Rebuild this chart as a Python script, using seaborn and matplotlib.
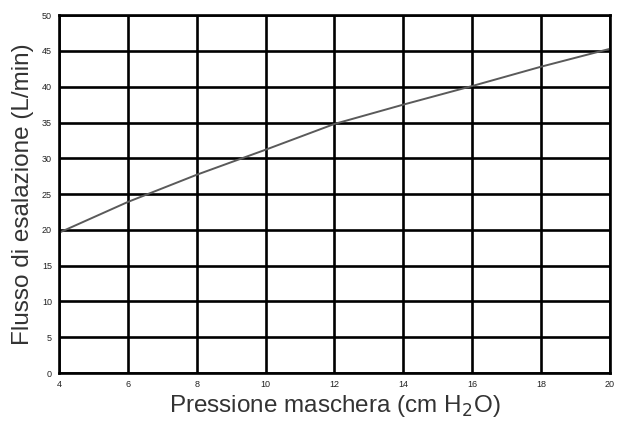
import numpy as np
import pandas as pd
import seaborn as sns
import matplotlib
matplotlib.use('Agg')
import matplotlib.pyplot as plt

# curve
pressione = [4, 6, 8, 10, 12, 14, 16, 18, 20]
flusso = [19.6, 23.9, 27.7, 31.2, 34.8, 37.5, 40.1, 42.8, 45.3]

x_ticks = [4, 6, 8, 10, 12, 14, 16, 18, 20]
y_ticks = [0, 5, 10, 15, 20, 25, 30, 35, 40, 45, 50]

sns.set_style('white')
plt.rcParams['font.family'] = ['Liberation Sans', 'DejaVu Sans']

df = pd.DataFrame({'p': pressione, 'f': flusso})

fig = plt.figure(figsize=(6.17, 4.21), dpi=100)
ax = fig.add_axes([0.0956, 0.114, 0.893, 0.850])

ax.set_xlim(4, 20)
ax.set_ylim(0, 50)
ax.set_xticks(x_ticks)
ax.set_yticks(y_ticks)
ax.grid(True, color='black', linewidth=1.9)
ax.set_axisbelow(True)
for s in ax.spines.values():
    s.set_color('black')
    s.set_linewidth(1.9)

sns.lineplot(data=df, x='p', y='f', ax=ax, color='#5a5a5a', linewidth=1.4)

ax.tick_params(axis='both', labelsize=6.5, length=0, pad=5, colors='#222222')
ax.set_xlabel('Pressione maschera (cm H$_2$O)', fontsize=17.5, color='#333333', labelpad=3)
ax.set_ylabel('Flusso di esalazione (L/min)', fontsize=17.5, color='#333333', labelpad=6)

fig.savefig('out.png', dpi=100)
